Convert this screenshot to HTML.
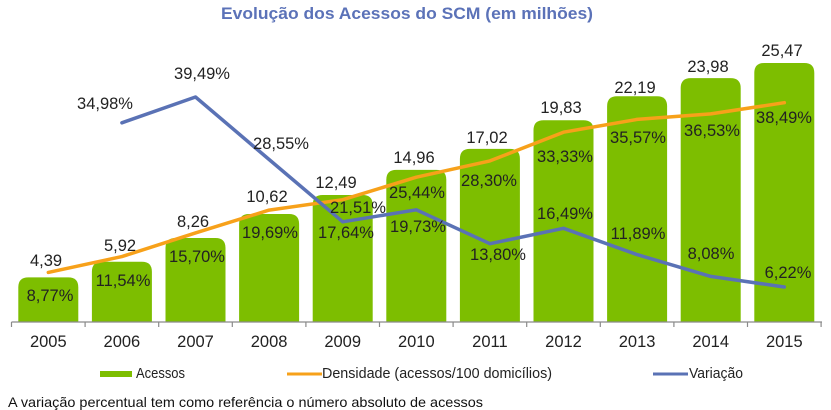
<!DOCTYPE html>
<html><head><meta charset="utf-8"><style>
html,body{margin:0;padding:0;background:#fff;}
svg{display:block;}
text{font-family:"Liberation Sans",sans-serif;}
</style></head><body>
<svg width="831" height="410" viewBox="0 0 831 410" xmlns="http://www.w3.org/2000/svg">
<rect width="831" height="410" fill="#fff"/>
<text x="221" y="19" font-size="17" font-weight="bold" fill="#5B72B8" textLength="372" lengthAdjust="spacingAndGlyphs">Evolução dos Acessos do SCM (em milhões)</text>
<g fill="#7DBE00">
<path d="M18.3,321.5 V287.4 Q18.3,277.4 28.3,277.4 H68.3 Q78.3,277.4 78.3,287.4 V321.5 Z"/>
<path d="M91.9,321.5 V271.8 Q91.9,261.8 101.9,261.8 H141.9 Q151.9,261.8 151.9,271.8 V321.5 Z"/>
<path d="M165.5,321.5 V248 Q165.5,238 175.5,238 H215.5 Q225.5,238 225.5,248 V321.5 Z"/>
<path d="M239.1,321.5 V224 Q239.1,214 249.1,214 H289.1 Q299.1,214 299.1,224 V321.5 Z"/>
<path d="M312.7,321.5 V205 Q312.7,195 322.7,195 H362.7 Q372.7,195 372.7,205 V321.5 Z"/>
<path d="M386.3,321.5 V179.9 Q386.3,169.9 396.3,169.9 H436.3 Q446.3,169.9 446.3,179.9 V321.5 Z"/>
<path d="M459.9,321.5 V158.9 Q459.9,148.9 469.9,148.9 H509.9 Q519.9,148.9 519.9,158.9 V321.5 Z"/>
<path d="M533.5,321.5 V130.3 Q533.5,120.3 543.5,120.3 H583.5 Q593.5,120.3 593.5,130.3 V321.5 Z"/>
<path d="M607.1,321.5 V106.3 Q607.1,96.3 617.1,96.3 H657.1 Q667.1,96.3 667.1,106.3 V321.5 Z"/>
<path d="M680.7,321.5 V88.1 Q680.7,78.1 690.7,78.1 H730.7 Q740.7,78.1 740.7,88.1 V321.5 Z"/>
<path d="M754.3,321.5 V73 Q754.3,63 764.3,63 H804.3 Q814.3,63 814.3,73 V321.5 Z"/>
</g>
<g stroke="#8A8A8A" stroke-width="1.2" fill="none">
<line x1="11.5" y1="322" x2="822" y2="322"/>
<path d="M11.5,322V327 M85.1,322V327 M158.7,322V327 M232.3,322V327 M305.9,322V327 M379.5,322V327 M453.1,322V327 M526.7,322V327 M600.3,322V327 M673.9,322V327 M747.5,322V327 M821.1,322V327"/>
</g>
<polyline fill="none" stroke="#F7A11A" stroke-width="3.5" stroke-linejoin="round" stroke-linecap="round" points="48.3,272.4 121.9,256.6 195.5,232.9 269.1,210.1 342.7,199.7 416.3,177.2 489.9,160.9 563.5,132.2 637.1,119.4 710.7,113.9 784.3,102.7"/>
<polyline fill="none" stroke="#5A72B5" stroke-width="3.5" stroke-linejoin="round" stroke-linecap="round" points="121.9,122.8 195.5,97 269.1,159.5 342.7,221.8 416.3,209.8 489.9,243.7 563.5,228.3 637.1,254.6 710.7,276.4 784.3,287"/>
<g font-size="16.5" fill="#222" text-anchor="middle">
<text x="46" y="266">4,39</text>
<text x="120" y="251">5,92</text>
<text x="193" y="227">8,26</text>
<text x="267" y="202">10,62</text>
<text x="336" y="188">12,49</text>
<text x="414" y="163">14,96</text>
<text x="487" y="143">17,02</text>
<text x="561" y="113">19,83</text>
<text x="635" y="93">22,19</text>
<text x="708" y="72">23,98</text>
<text x="782" y="56">25,47</text>
<text x="50" y="301">8,77%</text>
<text x="123" y="286">11,54%</text>
<text x="197" y="262">15,70%</text>
<text x="270" y="238">19,69%</text>
<text x="358" y="213">21,51%</text>
<text x="417" y="198">25,44%</text>
<text x="489" y="186">28,30%</text>
<text x="565" y="162">33,33%</text>
<text x="638" y="143">35,57%</text>
<text x="712" y="136">36,53%</text>
<text x="784" y="123">38,49%</text>
<text x="105" y="109">34,98%</text>
<text x="202" y="79">39,49%</text>
<text x="281" y="149">28,55%</text>
<text x="346" y="238">17,64%</text>
<text x="418" y="232">19,73%</text>
<text x="498" y="260">13,80%</text>
<text x="565" y="219">16,49%</text>
<text x="638" y="239">11,89%</text>
<text x="711" y="259">8,08%</text>
<text x="788" y="278">6,22%</text>
<text x="48.3" y="347">2005</text>
<text x="121.9" y="347">2006</text>
<text x="195.5" y="347">2007</text>
<text x="269.1" y="347">2008</text>
<text x="342.7" y="347">2009</text>
<text x="416.3" y="347">2010</text>
<text x="489.9" y="347">2011</text>
<text x="563.5" y="347">2012</text>
<text x="637.1" y="347">2013</text>
<text x="710.7" y="347">2014</text>
<text x="784.3" y="347">2015</text>
</g>
<rect x="100" y="371" width="32" height="6" fill="#7DBE00"/>
<text x="136" y="378" font-size="14.5" fill="#222" textLength="49" lengthAdjust="spacingAndGlyphs">Acessos</text>
<line x1="287" y1="374" x2="322" y2="374" stroke="#F7A11A" stroke-width="3"/>
<text x="322" y="378" font-size="14.5" fill="#222" textLength="230" lengthAdjust="spacingAndGlyphs">Densidade (acessos/100 domicílios)</text>
<line x1="653" y1="374" x2="688" y2="374" stroke="#5A72B5" stroke-width="3"/>
<text x="689" y="378" font-size="14.5" fill="#222" textLength="54" lengthAdjust="spacingAndGlyphs">Variação</text>
<text x="8" y="407" font-size="14" fill="#111" textLength="475" lengthAdjust="spacingAndGlyphs">A variação percentual tem como referência o número absoluto de acessos</text>
</svg>
</body></html>
